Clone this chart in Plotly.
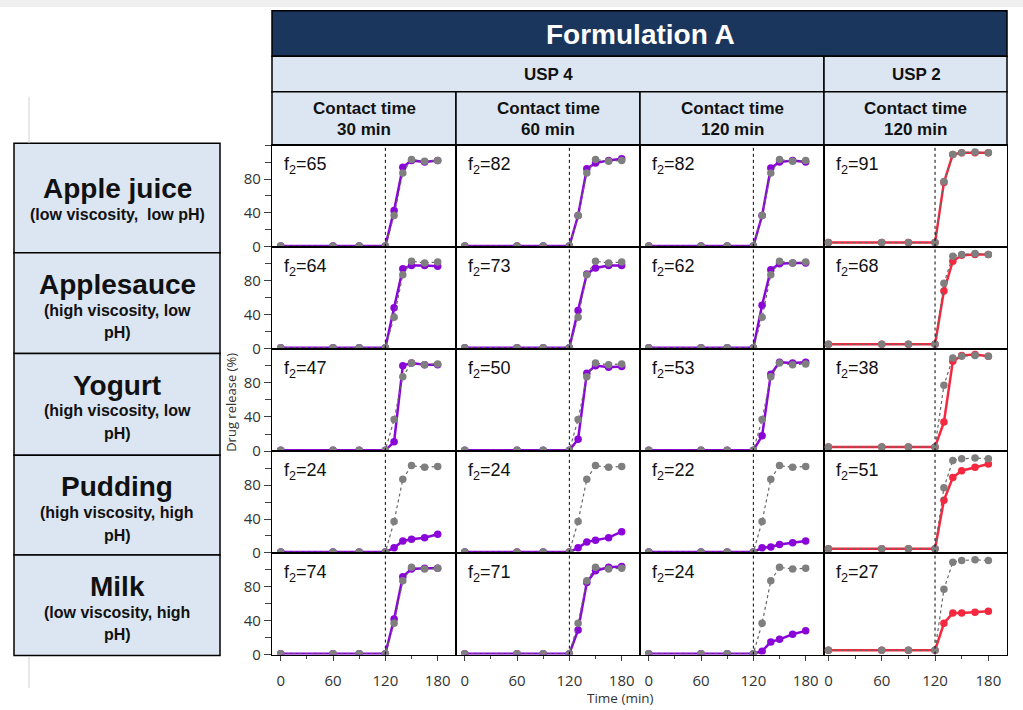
import plotly.graph_objects as go

# ---------------- data ----------------
time_min = [0, 60, 90, 120, 130, 140, 150, 165, 180]

ref_usp4 = [1, 1, 1, 1, 37, 87, 103, 101, 102]
ref_usp2 = [5, 5, 5, 5, 77, 109, 111, 112, 111]

media = ["Apple juice", "Applesauce", "Yogurt", "Pudding", "Milk"]
media_desc = [
    ["(low viscosity,  low pH)"],
    ["(high viscosity, low", "pH)"],
    ["(high viscosity, low", "pH)"],
    ["(high viscosity, high", "pH)"],
    ["(low viscosity, high", "pH)"],
]

col_titles = ["Contact time<br>30 min", "Contact time<br>60 min",
              "Contact time<br>120 min", "Contact time<br>120 min"]

usp4_30 = [
    [1, 1, 1, 1, 43, 94, 102, 100, 102],
    [1, 1, 1, 1, 48, 94, 98, 98, 97],
    [1, 1, 1, 1, 11, 100, 103, 101, 101],
    [1, 1, 1, 1, 6, 14, 16, 18, 22],
    [1, 1, 1, 1, 42, 92, 101, 102, 102],
]
usp4_60 = [
    [1, 1, 1, 1, 37, 92, 99, 102, 104],
    [1, 1, 1, 1, 45, 88, 95, 98, 98],
    [1, 1, 1, 1, 14, 91, 100, 98, 99],
    [1, 1, 1, 1, 6, 13, 15, 18, 25],
    [1, 1, 1, 1, 29, 85, 99, 103, 104],
]
usp4_120 = [
    [1, 1, 1, 1, 37, 93, 100, 102, 100],
    [1, 1, 1, 1, 51, 93, 100, 101, 101],
    [1, 1, 1, 1, 18, 90, 104, 103, 104],
    [1, 1, 1, 1, 6, 7, 10, 12, 14],
    [1, 1, 1, 1, 4, 15, 18, 24, 28],
]
usp2_120 = [
    [5, 5, 5, 5, 76, 109, 111, 111, 111],
    [5, 5, 5, 5, 68, 103, 110, 111, 111],
    [5, 5, 5, 5, 34, 105, 112, 113, 111],
    [5, 5, 5, 5, 62, 89, 97, 101, 105],
    [5, 5, 5, 5, 37, 49, 49, 50, 51],
]

f2_30 = [65, 64, 47, 24, 74]
f2_60 = [82, 73, 50, 24, 71]
f2_120 = [82, 62, 53, 22, 24]
f2_usp2 = [91, 68, 38, 51, 27]

# ---------------- styling / layout ----------------
W, H = 1023, 710
def fx(px): return px / W
def fy(py): return 1 - py / H

PURPLE = "#8a05d8"
RED = "#f5283f"
GRAY = "#7f7f7f"
NAVY = "#1b365d"
LIGHT = "#dce6f2"
FONT = "Liberation Sans, Arial, sans-serif"
TICKFONT = "Open Sans, Liberation Sans, sans-serif"

col_edges = [272, 456, 640, 824, 1007]
row_edges = [147, 250, 353, 457, 560, 663]

series_cols = [usp4_30, usp4_60, usp4_120, usp2_120]
refs = [ref_usp4, ref_usp4, ref_usp4, ref_usp2]
colors = [PURPLE, PURPLE, PURPLE, RED]
f2s = [f2_30, f2_60, f2_120, f2_usp2]
xranges = [[-10, 201], [-10, 201], [-10, 201], [-5, 201]]

fig = go.Figure()
layout = dict(width=W, height=H, margin=dict(l=0, r=0, t=0, b=0, pad=0),
              paper_bgcolor="white", plot_bgcolor="white", showlegend=False,
              font=dict(family=FONT, color="#222"))
shapes, annots = [], []

for r in range(5):
    for c in range(4):
        i = r * 4 + c + 1
        sfx = "" if i == 1 else str(i)
        xa, ya = "xaxis" + sfx, "yaxis" + sfx
        xr, yr = "x" + sfx, "y" + sfx
        bottom = (r == 4)
        left = (c == 0)
        xax = dict(domain=[fx(col_edges[c]), fx(col_edges[c + 1])], anchor=yr,
                   range=xranges[c], showline=True, mirror=True, linecolor="black",
                   linewidth=1.2, showgrid=False, zeroline=False,
                   showticklabels=bottom, ticks="outside" if bottom else "",
                   tickvals=[0, 60, 120, 180], ticklen=5, tickcolor="#404040",
                   ticklabelstandoff=7,
                   tickfont=dict(size=15, color="#333", family=TICKFONT))
        if bottom:
            xax["minor"] = dict(tickvals=[30, 90, 150], ticks="outside",
                                ticklen=3, tickcolor="#404040")
        yax = dict(domain=[fy(row_edges[r + 1]), fy(row_edges[r])], anchor=xr,
                   range=[0, 120], showline=True, mirror=True, linecolor="black",
                   linewidth=1.2, showgrid=False, zeroline=False,
                   showticklabels=left, ticks="outside" if left else "",
                   tickvals=[0, 40, 80], ticklen=7, tickcolor="#404040",
                   tickfont=dict(size=15, color="#333", family=TICKFONT))
        if left:
            yax["minor"] = dict(tickvals=[20, 60, 100, 120], ticks="outside",
                                ticklen=6, tickcolor="#404040")
        layout[xa] = xax
        layout[ya] = yax

        fig.add_trace(go.Scatter(x=time_min, y=series_cols[c][r], xaxis=xr, yaxis=yr,
                                 mode="lines+markers",
                                 line=dict(color=colors[c], width=2.5),
                                 marker=dict(color=colors[c], size=7.5)))
        fig.add_trace(go.Scatter(x=time_min, y=refs[c], xaxis=xr, yaxis=yr,
                                 mode="lines+markers",
                                 line=dict(color="#666", width=1.2, dash="dot"),
                                 marker=dict(color=GRAY, size=7.5)))
        shapes.append(dict(type="line", xref=xr, yref=yr + " domain",
                           x0=120, x1=120, y0=0, y1=1,
                           line=dict(color="black", width=1, dash="dot")))
        annots.append(dict(xref=xr + " domain", yref=yr + " domain",
                           x=0.055, y=0.80, xanchor="left", yanchor="middle",
                           text="f<sub>2</sub>=%d" % f2s[c][r], showarrow=False,
                           font=dict(size=18, color="#111", family=FONT)))

def rect(x0, y0, x1, y1, fill, lw=1.5, lc="black"):
    shapes.append(dict(type="rect", xref="paper", yref="paper",
                       x0=fx(x0), x1=fx(x1), y0=fy(y1), y1=fy(y0),
                       fillcolor=fill, line=dict(color=lc, width=lw), layer="below"))

def text(x, y, s, size, bold=True, color="#111", angle=0, anchor="center", fam=FONT):
    annots.append(dict(xref="paper", yref="paper", x=fx(x), y=fy(y),
                       xanchor=anchor, yanchor="middle", showarrow=False,
                       text=("<b>%s</b>" % s) if bold else s, textangle=angle,
                       font=dict(size=size, color=color, family=fam)))

# screenshot background artifacts
rect(0, 0, 1023, 7, "#efefef", lw=0)
shapes.append(dict(type="line", xref="paper", yref="paper", x0=fx(29), x1=fx(29),
                   y0=fy(145), y1=fy(98), line=dict(color="#d0d0d0", width=1)))
shapes.append(dict(type="line", xref="paper", yref="paper", x0=fx(29), x1=fx(29),
                   y0=fy(697), y1=fy(665), line=dict(color="#d0d0d0", width=1)))

# header
rect(272, 11, 1007, 57, NAVY)
text(640, 35, "Formulation A", 28, color="white")
rect(272, 57, 824, 93, LIGHT)
rect(824, 57, 1007, 93, LIGHT)
text(548, 75, "USP 4", 17)
text(916, 75, "USP 2", 17)
for c in range(4):
    rect(col_edges[c], 93, col_edges[c + 1], 147, LIGHT)
    cx = (col_edges[c] + col_edges[c + 1]) / 2
    l1, l2 = col_titles[c].split("<br>")
    text(cx, 110, l1, 17)
    text(cx, 131, l2, 17)

# row labels
box_edges = [145, 256, 358, 461, 562, 664]
for r in range(5):
    top = box_edges[r]
    rect(14, top, 220, box_edges[r + 1], LIGHT)
    if len(media_desc[r]) == 1:
        text(117, top + 46, media[r], 28)
        text(117, top + 72, media_desc[r][0], 16)
    else:
        text(117, top + 32, media[r], 28)
        text(117, top + 58, media_desc[r][0], 16)
        text(117, top + 81, media_desc[r][1], 16)

# axis titles
text(620, 707, "Time (min)", 13.5, bold=False, color="#333", fam=TICKFONT)
text(231, 408, "Drug release (%)", 13, bold=False, color="#333", angle=-90, fam=TICKFONT)

layout["shapes"] = shapes
layout["annotations"] = annots
fig.update_layout(**layout)
fig.write_html("out.html")
